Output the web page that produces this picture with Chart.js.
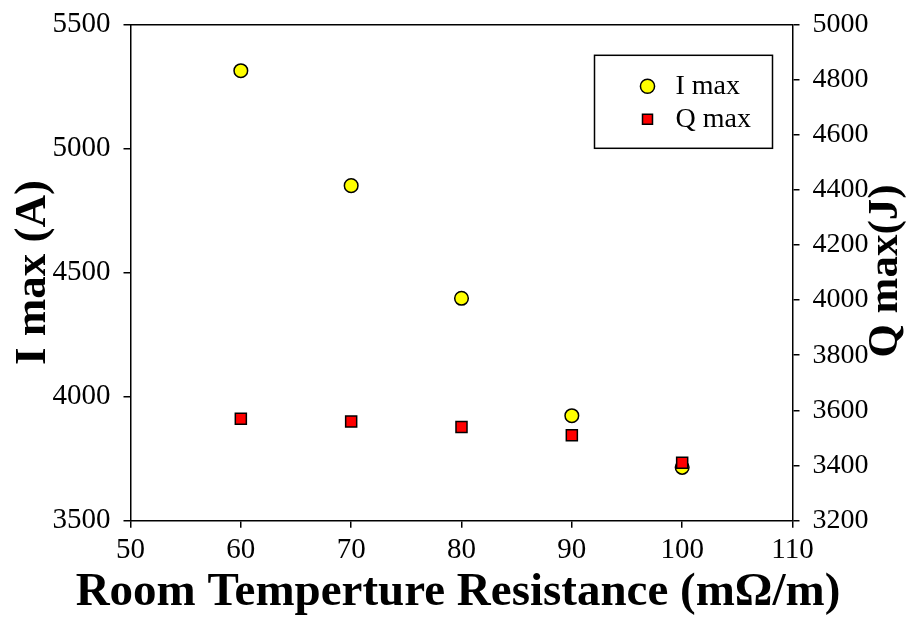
<!DOCTYPE html>
<html>
<head>
<meta charset="utf-8">
<script src="https://cdn.jsdelivr.net/npm/chart.js@4/dist/chart.umd.min.js"></script>
<style>
  html, body { margin: 0; padding: 0; background: #ffffff; }
  #wrap { width: 916px; height: 617px; }
</style>
</head>
<body>
<div id="wrap"><canvas id="c" width="916" height="617"></canvas></div>
<script>
// ---- data ----
const resistance = [60, 70, 80, 90, 100];          // mΩ/m
const iMaxValues = [5313, 4850, 4396, 3923, 3715]; // A (left axis)
const qMaxValues = [3570, 3560, 3540, 3510, 3410]; // J (right axis)
const seriesNames = ['I max', 'Q max'];
const xTitle = 'Room Temperture Resistance (mΩ/m)';
const yLeftTitle = 'I max (A)';
const yRightTitle = 'Q max(J)';

const SERIF = "'Liberation Serif', 'Times New Roman', serif";

const toPoints = (xs, ys) => xs.map((x, i) => ({ x: x, y: ys[i] }));
const plainTick = (v) => String(v);

const frameLayout = {
  id: 'frameLayout',
  beforeDraw(chart) {
    const lg = chart.legend;
    const ca = chart.chartArea;
    if (lg) {
      const w = lg.width, h = lg.height;
      lg.left = ca.left + 498;
      lg.top = ca.top + 43;
      lg.right = lg.left + w;
      lg.bottom = lg.top + h;
    }
  },
  afterDraw(chart) {
    const ctx = chart.ctx;
    const ca = chart.chartArea;
    ctx.save();
    // legend frame
    ctx.strokeStyle = '#000';
    ctx.lineWidth = 1.5;
    ctx.strokeRect(ca.left + 464, ca.top + 31, 178, 93);
    ctx.fillStyle = '#000';
    ctx.textAlign = 'center';
    ctx.textBaseline = 'middle';
    // x axis title (full width, as in the reference)
    ctx.font = "bold 47px " + SERIF;
    ctx.fillText(xTitle, 458, 593);
    // right axis title (reads bottom-to-top as in the reference)
    ctx.translate(886, 271);
    ctx.rotate(-Math.PI / 2);
    ctx.font = "bold 43px " + SERIF;
    ctx.fillText(yRightTitle, 0, 0);
    ctx.restore();
  }
};

const axisCommon = {
  grid: { display: true, drawOnChartArea: false, drawTicks: true, tickLength: 7, color: '#000', lineWidth: 1.5 },
  border: { display: true, color: '#000', width: 1.5 },
};

new Chart(document.getElementById('c'), {
  type: 'scatter',
  data: {
    datasets: [
      {
        label: seriesNames[0],
        data: toPoints(resistance, iMaxValues),
        yAxisID: 'y',
        pointStyle: 'circle',
        pointRadius: 6.8,
        pointHoverRadius: 6.8,
        backgroundColor: '#ffff00',
        borderColor: '#000',
        borderWidth: 1.5,
        order: 1
      },
      {
        label: seriesNames[1],
        data: toPoints(resistance, qMaxValues),
        yAxisID: 'y2',
        pointStyle: 'rect',
        pointRadius: 7.8,
        pointHoverRadius: 7.8,
        backgroundColor: '#ff0000',
        borderColor: '#000',
        borderWidth: 1.5,
        order: 0
      }
    ]
  },
  options: {
    responsive: false,
    animation: false,
    events: [],
    layout: { padding: { top: 24.3, left: 0, right: 0, bottom: 0 } },
    plugins: {
      tooltip: { enabled: false },
      legend: {
        display: true,
        position: 'chartArea',
        align: 'start',
        labels: {
          usePointStyle: true,
          boxWidth: 28,
          boxHeight: 10,
          padding: 5,
          color: '#000',
          font: { family: SERIF, size: 28 },
          sort: (a, b) => a.datasetIndex - b.datasetIndex
        }
      }
    },
    scales: {
      x: {
        type: 'linear',
        position: 'bottom',
        min: 50, max: 110,
        ...axisCommon,
        ticks: { stepSize: 10, color: '#000', padding: 5, callback: plainTick, font: { family: SERIF, size: 29 } },
        title: { display: false },
        afterFit(s) { s.height = 96.3; s.paddingLeft = 0; s.paddingRight = 0; }
      },
      xTop: {
        type: 'linear',
        position: 'top',
        min: 50, max: 110,
        grid: { display: true, drawOnChartArea: false, drawTicks: false },
        border: { display: true, color: '#000', width: 1.5 },
        ticks: { display: false },
        afterFit(s) { s.height = 0; s.paddingLeft = 0; s.paddingRight = 0; }
      },
      y: {
        type: 'linear',
        position: 'left',
        min: 3500, max: 5500,
        ...axisCommon,
        ticks: { stepSize: 500, color: '#000', padding: 13, callback: plainTick, font: { family: SERIF, size: 29 } },
        title: { display: true, text: yLeftTitle, color: '#000', font: { family: SERIF, size: 45, weight: 'bold', lineHeight: 1 }, padding: { top: 10.5, bottom: 0 } },
        afterFit(s) { s.width = 130.5; s.paddingTop = 0; s.paddingBottom = 0; }
      },
      y2: {
        type: 'linear',
        position: 'right',
        min: 3200, max: 5000,
        ...axisCommon,
        ticks: { stepSize: 200, color: '#000', padding: 13, callback: plainTick, font: { family: SERIF, size: 28 } },
        afterFit(s) { s.width = 123.5; s.paddingTop = 0; s.paddingBottom = 0; }
      }
    }
  },
  plugins: [frameLayout]
});
</script>
</body>
</html>
